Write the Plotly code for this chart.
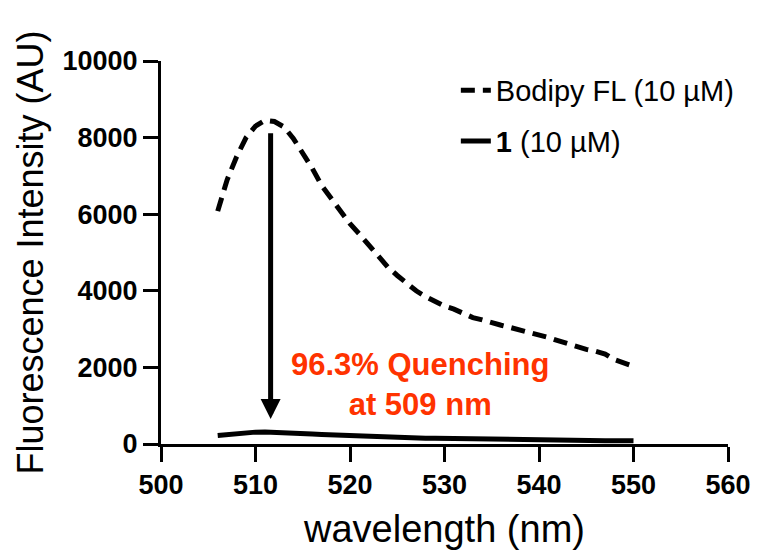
import plotly.graph_objects as go

wavelength = list(range(506, 551))
bodipy = [6080, 6900, 7500, 8000, 8300, 8450, 8420, 8280, 7980, 7600,
          7200, 6750, 6400, 6050, 5750, 5480, 5200, 4900, 4620, 4400,
          4200, 4000, 3850, 3720, 3600, 3520, 3400, 3300, 3240, 3160,
          3100, 3040, 2980, 2900, 2840, 2780, 2700, 2620, 2540, 2470,
          2420, 2350, 2200, 2100, 2030]
compound1 = [220, 250, 280, 300, 310, 315, 310, 300, 290, 275,
             262, 250, 238, 226, 215, 205, 196, 188, 180, 172,
             165, 158, 152, 147, 142, 137, 132, 128, 124, 120,
             116, 113, 110, 107, 104, 101, 98, 96, 94, 92,
             90, 88, 86, 84, 82]
x_ticks = [500, 510, 520, 530, 540, 550, 560]
y_ticks = [0, 2000, 4000, 6000, 8000, 10000]
names = ["Bodipy FL (10 µM)", "<b>1</b> (10 µM)"]

FONT = "Liberation Sans, Arial, Helvetica, sans-serif"

fig = go.Figure()
fig.add_trace(go.Scatter(x=wavelength, y=bodipy, mode="lines", name=names[0],
                         legendgroup="a",
                         line=dict(color="black", width=5, dash="14px,8px")))
fig.add_trace(go.Scatter(x=wavelength, y=compound1, mode="lines", name=names[1],
                         legendgroup="b",
                         line=dict(color="black", width=5)))

# arrow from peak down to quenched curve
fig.add_annotation(x=511.6, y=650, ax=511.6, ay=8150, xref="x", yref="y",
                   axref="x", ayref="y", text="", showarrow=True,
                   arrowhead=2, arrowwidth=5, arrowsize=0.8, arrowcolor="black")
fig.add_annotation(x=527.4, y=1550, xref="x", yref="y",
                   text="<b>96.3% Quenching<br>at 509 nm</b>", showarrow=False,
                   font=dict(family=FONT, size=31, color="#FF3300"),
                   xanchor="center", yanchor="middle")

fig.update_layout(
    width=763, height=555,
    margin=dict(l=161, r=29, t=61, b=110),
    plot_bgcolor="white", paper_bgcolor="white",
    font=dict(family=FONT, color="black"),
    showlegend=True,
    legend=dict(x=0.52, y=0.99, xanchor="left", yanchor="top",
                font=dict(family=FONT, size=29, color="black"),
                bgcolor="rgba(0,0,0,0)", tracegroupgap=10,
                itemwidth=30),
    xaxis=dict(range=[500, 560], tickvals=x_ticks, ticktext=[str(v) for v in x_ticks],
               showline=True, linecolor="black", linewidth=3,
               ticks="outside", ticklen=15, tickwidth=3, tickcolor="black",
               showgrid=False, zeroline=False,
               tickfont=dict(family=FONT, size=27, color="black", weight="bold"),
               title=dict(text="wavelength (nm)", font=dict(family=FONT, size=38, color="black"),
                          standoff=16)),
    yaxis=dict(range=[0, 10000], tickvals=y_ticks, ticktext=[str(v) for v in y_ticks],
               showline=True, linecolor="black", linewidth=3,
               ticks="outside", ticklen=15, tickwidth=3, tickcolor="black",
               showgrid=False, zeroline=False,
               tickfont=dict(family=FONT, size=27, color="black", weight="bold"),
               title=dict(text="Fluorescence Intensity (AU)",
                          font=dict(family=FONT, size=36, color="black"),
                          standoff=8)),
)

fig.write_html("out.html")
